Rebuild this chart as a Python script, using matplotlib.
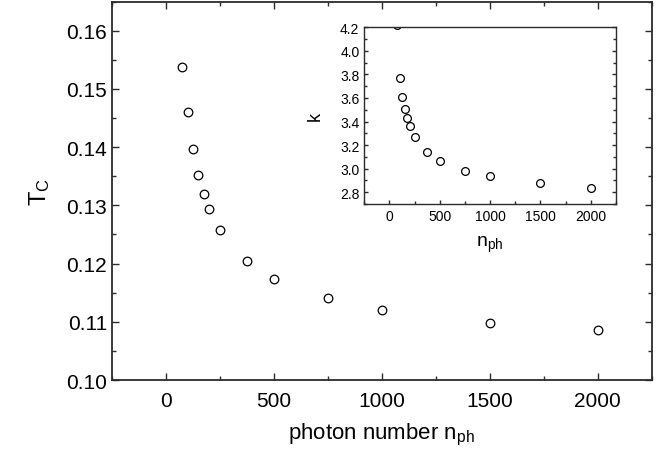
import numpy as np
import matplotlib
matplotlib.use("Agg")
import matplotlib.pyplot as plt
from matplotlib.ticker import MultipleLocator

plt.rcParams['font.family'] = ['Liberation Sans', 'DejaVu Sans']
plt.rcParams['mathtext.fontset'] = 'custom'
plt.rcParams['mathtext.rm'] = 'Liberation Sans'
plt.rcParams['mathtext.it'] = 'Liberation Sans'

# photon numbers, critical temperature and k
n_ph = [75, 100, 125, 150, 175, 200, 250, 375, 500, 750, 1000, 1500, 2000]
t_c = [0.1538, 0.1460, 0.1396, 0.1352, 0.1320, 0.1294, 0.1258,
       0.1205, 0.1174, 0.1141, 0.1121, 0.1098, 0.1086]
k_vals = [4.22, 3.767, 3.611, 3.507, 3.431, 3.365, 3.272,
          3.142, 3.063, 2.981, 2.934, 2.877, 2.840]

edge = '#2b2b2b'


def style_axes(ax, size):
    for s in ax.spines.values():
        s.set_color(edge)
        s.set_linewidth(1.3)
    ax.tick_params(which='both', direction='in', colors=edge, labelcolor='black',
                   labelsize=size, top=True, right=True)
    ax.tick_params(which='major', length=5, width=1.0)
    ax.tick_params(which='minor', length=3, width=1.0)


fig = plt.figure(figsize=(6.61, 4.60), dpi=100)

ax = fig.add_axes([0.1694, 0.1717, 0.8166, 0.8226])
ax.plot(n_ph, t_c, 'o', mfc='none', mec='black', ms=6.2, mew=0.9)
ax.set_xlim(-250, 2250)
ax.set_ylim(0.10, 0.165)
ax.xaxis.set_major_locator(MultipleLocator(500))
ax.xaxis.set_minor_locator(MultipleLocator(250))
ax.yaxis.set_major_locator(MultipleLocator(0.01))
ax.yaxis.set_minor_locator(MultipleLocator(0.005))
ax.yaxis.set_major_formatter(matplotlib.ticker.FormatStrFormatter('%.2f'))
style_axes(ax, 15)
ax.tick_params(axis='x', pad=8)
ax.set_xlabel(r'photon number n$_{\mathregular{ph}}$', fontsize=16, labelpad=8)
ax.set_ylabel(r'T$_{\mathregular{C}}$', fontsize=17, labelpad=10)

ins = fig.add_axes([0.5511, 0.5543, 0.3808, 0.3842])
ins.plot(n_ph, k_vals, 'o', mfc='none', mec='black', ms=5.6, mew=0.9)
ins.set_xlim(-250, 2250)
ins.set_ylim(2.7, 4.2)
ins.xaxis.set_major_locator(MultipleLocator(500))
ins.xaxis.set_minor_locator(MultipleLocator(250))
ins.yaxis.set_major_locator(MultipleLocator(0.2))
ins.yaxis.set_minor_locator(MultipleLocator(0.1))
ins.yaxis.set_major_formatter(matplotlib.ticker.FormatStrFormatter('%.1f'))
style_axes(ins, 10)
ins.tick_params(which='both', top=False)
ins.tick_params(which='major', length=3)
ins.tick_params(which='minor', length=2)
for s in ins.spines.values():
    s.set_linewidth(1.0)
ins.set_xlabel(r'n$_{\mathregular{ph}}$', fontsize=14, labelpad=8)
ins.set_ylabel('k', fontsize=13, labelpad=12)

fig.savefig('out.png', dpi=100)
